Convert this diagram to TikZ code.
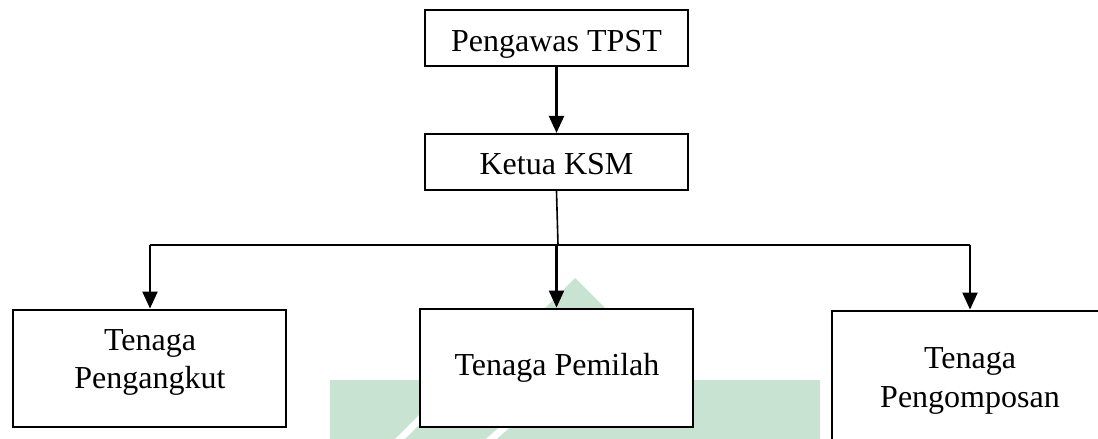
\documentclass[tikz,border=0pt]{standalone}
\usepackage{fontspec}
\setmainfont{Liberation Serif}
\usetikzlibrary{arrows.meta}
\definecolor{wm}{RGB}{201,227,211}
\begin{document}
\begin{tikzpicture}[x=1pt,y=-1pt,
  box/.style={draw=black,fill=white,line width=#1,inner sep=0pt},
  box/.default=2.2pt,
  txt/.style={font=\fontsize{32}{38.5}\selectfont,align=center,inner sep=0pt},
  arr/.style={line width=2.2pt,-{Triangle[length=17pt,width=15pt]}},
  thin/.style={line width=1.6pt}]
\path[use as bounding box,clip] (0,0) rectangle (1098,439);
% watermark
\fill[wm] (330,380) -- (473,380) -- (575,278) -- (677,380) -- (820,380) -- (820,439) -- (330,439) -- cycle;
\draw[white,line width=7pt] (392,447) -- (424,415);
\draw[white,line width=7pt] (482,447) -- (530,405);
% boxes
\node[box,minimum width=263pt,minimum height=56pt] (top) at (556.5,38) {};
\node[txt] (ttop) at (556.5,44.5) {Pengawas TPST};
\node[box,minimum width=263pt,minimum height=56pt] (ketua) at (556.5,162) {};
\node[txt] (tketua) at (556.5,164.5) {Ketua KSM};
\node[box=2.9pt,minimum width=273pt,minimum height=117pt] (left) at (149.5,368.5) {};
\node[txt] (tleft) at (150,362.5) {Tenaga\\Pengangkut};
\node[box=2.9pt,minimum width=273pt,minimum height=118pt] (mid) at (556.5,368) {};
\node[txt] (tmid) at (557,368) {Tenaga Pemilah};
\node[box=2.9pt,minimum width=276pt,minimum height=140pt] (right) at (970,381) {};
\node[txt] (tright) at (970,381) {Tenaga\\Pengomposan};
% connectors
\coordinate (j) at (558,245);
\coordinate (jl) at (150,245);
\coordinate (jr) at (970,245);
\draw[arr] (top.south) -- (ketua.north);
\draw[thin] (ketua.south) -- (j);
\draw[thin] (jl) -- (jr);
\draw[arr] (jl) -- (jl |- left.north);
\draw[arr] (556.5,245) -- (mid.north);
\draw[arr] (jr) -- (jr |- right.north);
\end{tikzpicture}
\end{document}
